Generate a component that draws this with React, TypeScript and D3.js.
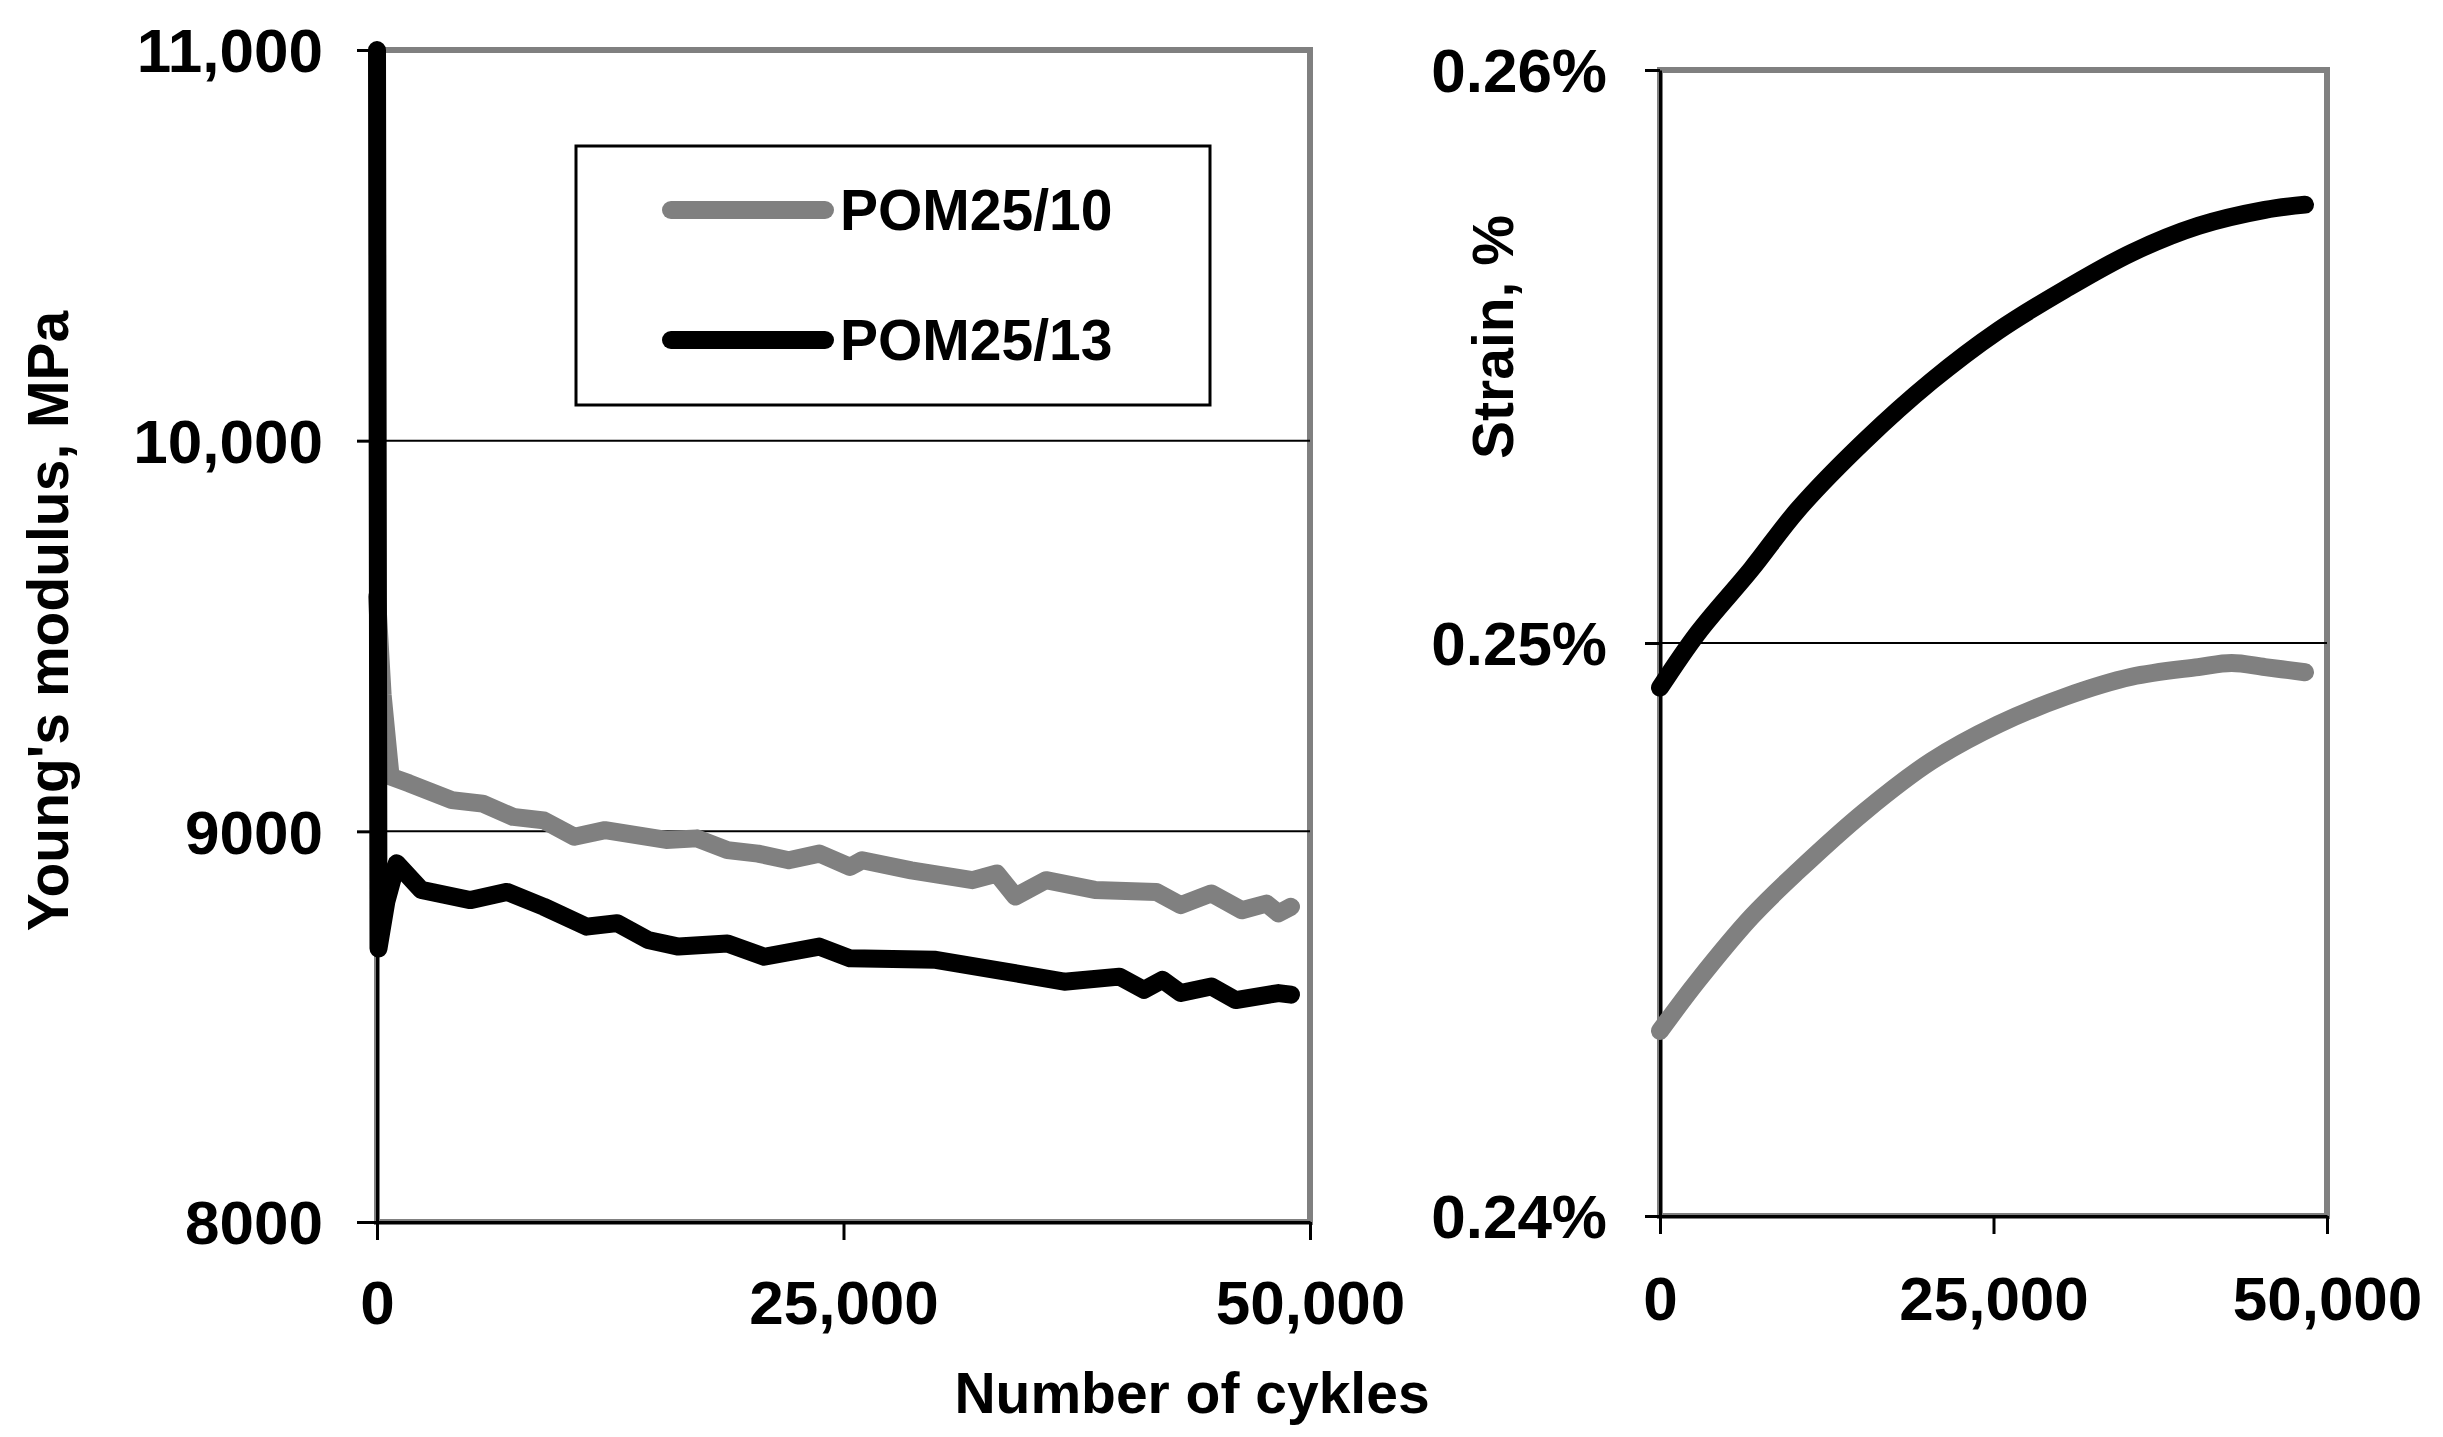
import * as d3 from "d3";
import React, { useRef, useEffect } from "react";

// Young's modulus vs number of cycles
const modCycles10 = [0, 300, 729, 1715, 4013, 5652, 7294, 8935, 10576, 12217, 15500, 17140, 18780, 20420, 22065, 23700, 25350, 26000, 28630, 31910, 33220, 34210, 35850, 38470, 41760, 43070, 44710, 46350, 47660, 48310, 48980];
const modValues10 = [9600, 9350, 9140, 9123, 9080, 9071, 9037, 9028, 8986, 9003, 8978, 8982, 8952, 8943, 8926, 8943, 8909, 8926, 8900, 8875, 8892, 8833, 8875, 8850, 8845, 8811, 8841, 8798, 8815, 8790, 8807];

const modCycles13 = [0, 80, 500, 1058, 2370, 4996, 6968, 8935, 11230, 12870, 14515, 16155, 18780, 20750, 23700, 25350, 29940, 33220, 36830, 39790, 41100, 42090, 43070, 44710, 46020, 48310, 48980];
const modValues13 = [11000, 8700, 8820, 8918, 8850, 8824, 8845, 8807, 8756, 8765, 8722, 8705, 8713, 8679, 8705, 8675, 8671, 8645, 8615, 8628, 8594, 8620, 8586, 8603, 8568, 8586, 8582];

// Strain vs number of cycles
const strainCycles10 = [0, 2850, 6850, 10350, 15350, 20350, 25350, 30350, 35350, 40350, 42850, 45350, 48350];
const strainValues10 = [0.24323, 0.24411, 0.24522, 0.24602, 0.24706, 0.24794, 0.24858, 0.24906, 0.24941, 0.24958, 0.24965, 0.24958, 0.24949];

const strainCycles13 = [0, 2850, 6850, 10350, 15350, 20350, 25350, 30350, 35350, 40350, 45350, 48350];
const strainValues13 = [0.24922, 0.25018, 0.25129, 0.25233, 0.25353, 0.25457, 0.25545, 0.25617, 0.25681, 0.25728, 0.25756, 0.25765];

const seriesNames = ["POM25/10", "POM25/13"];
const seriesColors = ["#808080", "#000000"];

const xTicks = [0, 25000, 50000];
const xTickLabels = ["0", "25,000", "50,000"];
const modTicks = [8000, 9000, 10000, 11000];
const modTickLabels = ["8000", "9000", "10,000", "11,000"];
const strainTicks = [0.24, 0.25, 0.26];
const strainTickLabels = ["0.24%", "0.25%", "0.26%"];

const FONT = "'Liberation Sans', Arial, sans-serif";

type Pt = { x: number; y: number };
const zip = (xs: number[], ys: number[]): Pt[] => xs.map((x, i) => ({ x, y: ys[i] }));

const App: React.FC = () => {
  const svgRef = useRef<SVGSVGElement>(null);

  useEffect(() => {
    if (!svgRef.current) return;
    const svg = d3.select(svgRef.current);
    svg.selectAll("*").remove();

    const drawPanel = (opts: {
      left: number; right: number; top: number; bottom: number;
      yDomain: [number, number]; yTicks: number[]; yLabels: string[];
      ytickSize: number; ytickPad: number; xtickPad: number;
      series: Pt[][]; curve: d3.CurveFactory;
    }) => {
      const x = d3.scaleLinear().domain([0, 50000]).range([opts.left, opts.right]);
      const y = d3.scaleLinear().domain(opts.yDomain).range([opts.bottom, opts.top]);
      const g = svg.append("g");

      // plot area frame
      g.append("rect")
        .attr("x", opts.left).attr("y", opts.top)
        .attr("width", opts.right - opts.left).attr("height", opts.bottom - opts.top)
        .attr("fill", "#fff").attr("stroke", "#808080").attr("stroke-width", 6);

      // gridlines
      g.selectAll(".grid")
        .data(opts.yTicks.slice(1, -1))
        .join("line")
        .attr("x1", opts.left).attr("x2", opts.right)
        .attr("y1", (d) => y(d)).attr("y2", (d) => y(d))
        .attr("stroke", "#000").attr("stroke-width", 2);

      // y axis
      const ya = g.append("g")
        .attr("transform", `translate(${opts.left},0)`)
        .call(
          d3.axisLeft(y)
            .tickValues(opts.yTicks)
            .tickFormat((_, i) => opts.yLabels[i])
            .tickSize(opts.ytickSize)
            .tickSizeOuter(0)
            .tickPadding(opts.ytickPad)
        );
      // x axis
      const xa = g.append("g")
        .attr("transform", `translate(0,${opts.bottom})`)
        .call(
          d3.axisBottom(x)
            .tickValues(xTicks)
            .tickFormat((_, i) => xTickLabels[i])
            .tickSize(18)
            .tickSizeOuter(0)
            .tickPadding(opts.xtickPad)
        );
      [ya, xa].forEach((a) => {
        a.select(".domain").attr("stroke", "#000").attr("stroke-width", 3);
        a.selectAll(".tick line").attr("stroke", "#000").attr("stroke-width", 3);
        a.selectAll(".tick text")
          .attr("fill", "#000")
          .attr("font-family", FONT)
          .attr("font-weight", "bold")
          .attr("font-size", 62);
      });
      ya.selectAll(".tick text").attr("dy", "0.35em");

      const line = d3.line<Pt>().x((d) => x(d.x)).y((d) => y(d.y)).curve(opts.curve);
      opts.series.forEach((s, i) => {
        g.append("path")
          .datum(s)
          .attr("fill", "none")
          .attr("stroke", seriesColors[i])
          .attr("stroke-width", 18)
          .attr("stroke-linejoin", "round")
          .attr("stroke-linecap", "round")
          .attr("d", line);
      });
    };

    drawPanel({
      left: 377, right: 1310, top: 50, bottom: 1222,
      yDomain: [8000, 11000], yTicks: modTicks, yLabels: modTickLabels,
      ytickSize: 20, ytickPad: 34, xtickPad: 40,
      series: [zip(modCycles10, modValues10), zip(modCycles13, modValues13)],
      curve: d3.curveLinear,
    });

    drawPanel({
      left: 1660, right: 2327, top: 70, bottom: 1216,
      yDomain: [0.24, 0.26], yTicks: strainTicks, yLabels: strainTickLabels,
      ytickSize: 15, ytickPad: 38, xtickPad: 42,
      series: [zip(strainCycles10, strainValues10), zip(strainCycles13, strainValues13)],
      curve: d3.curveCatmullRom,
    });

    // legend
    const lg = svg.append("g");
    lg.append("rect")
      .attr("x", 576).attr("y", 146).attr("width", 634).attr("height", 259)
      .attr("fill", "#fff").attr("stroke", "#000").attr("stroke-width", 3);
    const legendY = d3.scalePoint<string>().domain(seriesNames).range([210, 340]);
    seriesNames.forEach((name, i) => {
      const yy = legendY(name) as number;
      lg.append("line")
        .attr("x1", 671).attr("x2", 825).attr("y1", yy).attr("y2", yy)
        .attr("stroke", seriesColors[i]).attr("stroke-width", 18)
        .attr("stroke-linecap", "round");
      lg.append("text")
        .attr("x", 840).attr("y", yy + 20)
        .attr("font-family", FONT).attr("font-weight", "bold").attr("font-size", 57)
        .text(name);
    });

    // axis titles
    const title = (x: number, y: number, rot: boolean, t: string) =>
      svg.append("text")
        .attr("transform", `translate(${x},${y})${rot ? " rotate(-90)" : ""}`)
        .attr("text-anchor", "middle")
        .attr("font-family", FONT).attr("font-weight", "bold").attr("font-size", 57)
        .text(t);
    title(68, 621, true, "Young's modulus, MPa");
    title(1513, 337, true, "Strain, %");
    title(1192, 1413, false, "Number of cykles");
  }, []);

  return (
    <svg
      ref={svgRef}
      width={2443}
      height={1437}
      style={{ position: "absolute", left: 0, top: 0, background: "#fff" }}
    />
  );
};

export default App;
